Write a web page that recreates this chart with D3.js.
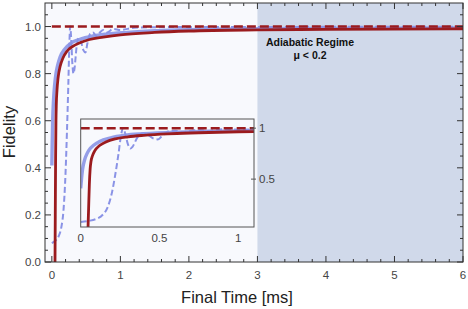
<!DOCTYPE html>
<html>
<head>
<meta charset="utf-8">
<script src="https://cdn.jsdelivr.net/npm/d3@7"></script>
<style>
  body { margin: 0; background: #fff; }
  svg { display: block; }
</style>
</head>
<body>
<svg id="chart" width="468" height="309"></svg>
<script>
// curves (time in ms, fidelity)
const redTime = [0.045, 0.05, 0.055, 0.06, 0.065, 0.075, 0.09, 0.12, 0.16, 0.22, 0.3, 0.4, 0.55, 0.75, 1.0, 1.5, 2, 3, 4, 6];
const redFid = [-0.05, 0.2, 0.45, 0.6, 0.67, 0.73, 0.78, 0.83, 0.865, 0.895, 0.915, 0.93, 0.945, 0.955, 0.965, 0.975, 0.981, 0.986, 0.988, 0.99];

const blueTime = [0, 0.005, 0.012, 0.025, 0.04, 0.06, 0.08, 0.12, 0.19, 0.28, 0.4, 0.6, 0.8, 1.1, 1.5, 2, 3, 6];
const blueFid = [0.41, 0.5, 0.6, 0.69, 0.75, 0.8, 0.83, 0.87, 0.905, 0.93, 0.945, 0.96, 0.968, 0.975, 0.982, 0.987, 0.991, 0.994];

const dashTime = [0, 0.05, 0.1, 0.14, 0.17, 0.2, 0.22, 0.24, 0.255, 0.268, 0.28, 0.3, 0.315, 0.33, 0.36, 0.39, 0.42, 0.46, 0.49, 0.52, 0.56, 0.6, 0.65, 0.7, 0.75, 0.8, 0.9, 1.0, 1.2, 1.5, 2, 6];
const dashFid = [0.08, 0.09, 0.11, 0.15, 0.22, 0.38, 0.55, 0.75, 0.92, 1.0, 0.96, 0.84, 0.8, 0.82, 0.91, 0.95, 0.94, 0.9, 0.89, 0.93, 0.97, 0.975, 0.96, 0.975, 0.985, 0.975, 0.99, 0.985, 0.995, 0.997, 0.998, 0.999];

const limitTime = [0, 6];
const limitFid = [1, 1];

const adiabaticStart = 3;
const xTicks = [0, 1, 2, 3, 4, 5, 6];
const yTicks = [0, 0.2, 0.4, 0.6, 0.8, 1.0];
const insetXTicks = [0, 0.5, 1];
const insetYTicks = [0.5, 1];

const red = "#9b1b1e";
const blue = "#8a93e6";
const tickColor = "#444";

const svg = d3.select("#chart");
const defs = svg.append("defs");

const x = d3.scaleLinear().domain([-0.1, 6]).range([45, 463]);
const y = d3.scaleLinear().domain([0, 1.1]).range([262, 3]);

const ix = d3.scaleLinear().domain([0, 1.1]).range([80.7, 254]);
const iy = d3.scaleLinear().domain([0.03, 1.09]).range([227, 119]);

const pts = (t, f) => t.map((d, i) => [d, f[i]]);

defs.append("clipPath").attr("id", "clipMain")
  .append("rect").attr("x", 45).attr("y", 3).attr("width", 418).attr("height", 259);
defs.append("clipPath").attr("id", "clipInset")
  .append("rect").attr("x", 80.7).attr("y", 119).attr("width", 173.3).attr("height", 108);

// background + adiabatic region
svg.append("rect")
  .attr("x", 45).attr("y", 3).attr("width", 418).attr("height", 259)
  .attr("fill", "#f8f9fd");
svg.append("rect")
  .attr("x", x(adiabaticStart)).attr("y", 3)
  .attr("width", x(6) - x(adiabaticStart)).attr("height", 259)
  .attr("fill", "#d0d9ea");

function drawCurves(g, sx, sy) {
  const line = d3.line().x((d) => sx(d[0])).y((d) => sy(d[1])).curve(d3.curveMonotoneX);
  g.append("path").datum(pts(blueTime, blueFid))
    .attr("d", line).attr("fill", "none")
    .attr("stroke", blue).attr("stroke-width", 3.4).attr("stroke-opacity", 0.9);
  g.append("path").datum(pts(dashTime, dashFid))
    .attr("d", line).attr("fill", "none")
    .attr("stroke", blue).attr("stroke-width", 2)
    .attr("stroke-dasharray", "6,3");
  g.append("path").datum(pts(redTime, redFid))
    .attr("d", line).attr("fill", "none")
    .attr("stroke", red).attr("stroke-width", 2.8);
  g.append("path").datum(pts(limitTime, limitFid))
    .attr("d", line).attr("fill", "none")
    .attr("stroke", red).attr("stroke-width", 2.5)
    .attr("stroke-dasharray", "9,4");
}

drawCurves(svg.append("g").attr("clip-path", "url(#clipMain)"), x, y);

// frame and ticks (inside, all four sides)
const frame = svg.append("g").attr("stroke", "#333").attr("stroke-width", 1);
frame.append("rect")
  .attr("x", 45).attr("y", 3).attr("width", 418).attr("height", 259)
  .attr("fill", "none");

const xMinor = d3.range(0, 6.001, 0.2);
const yMinor = d3.range(0, 1.1, 0.05);

frame.selectAll(".xt").data(xMinor).join("line")
  .attr("x1", (d) => x(d)).attr("x2", (d) => x(d))
  .attr("y1", 262).attr("y2", (d) => 262 - (Math.abs(d - Math.round(d)) < 1e-6 ? 6 : 3));
frame.selectAll(".xtt").data(xMinor).join("line")
  .attr("x1", (d) => x(d)).attr("x2", (d) => x(d))
  .attr("y1", 3).attr("y2", (d) => 3 + (Math.abs(d - Math.round(d)) < 1e-6 ? 6 : 3));
const isMajY = (d) => Math.abs(d * 5 - Math.round(d * 5)) < 1e-6;
frame.selectAll(".yt").data(yMinor).join("line")
  .attr("y1", (d) => y(d)).attr("y2", (d) => y(d))
  .attr("x1", 45).attr("x2", (d) => 45 + (isMajY(d) ? 6 : 3));
frame.selectAll(".ytr").data(yMinor).join("line")
  .attr("y1", (d) => y(d)).attr("y2", (d) => y(d))
  .attr("x1", 463).attr("x2", (d) => 463 - (isMajY(d) ? 6 : 3));

const labels = svg.append("g")
  .attr("font-family", "Liberation Sans, Arial, sans-serif")
  .attr("font-size", 11.5).attr("fill", tickColor);
labels.selectAll(".xl").data(xTicks).join("text")
  .attr("x", (d) => x(d)).attr("y", 279)
  .attr("text-anchor", "middle").text((d) => d);
labels.selectAll(".yl").data(yTicks).join("text")
  .attr("x", 41).attr("y", (d) => y(d) + 4)
  .attr("text-anchor", "end").text((d) => d.toFixed(1));

// axis titles
svg.append("text")
  .attr("x", 237).attr("y", 303)
  .attr("text-anchor", "middle")
  .attr("font-family", "Liberation Sans, Arial, sans-serif")
  .attr("font-size", 16.5).attr("fill", "#222")
  .text("Final Time [ms]");
svg.append("text")
  .attr("transform", "translate(15,132) rotate(-90)")
  .attr("text-anchor", "middle")
  .attr("font-family", "Liberation Sans, Arial, sans-serif")
  .attr("font-size", 16.5).attr("fill", "#222")
  .text("Fidelity");

// annotation
const note = svg.append("g")
  .attr("font-family", "Liberation Sans, Arial, sans-serif")
  .attr("font-size", 10.5).attr("font-weight", "bold")
  .attr("text-anchor", "middle").attr("fill", "#111");
note.append("text").attr("x", 310).attr("y", 46).text("Adiabatic Regime");
note.append("text").attr("x", 310).attr("y", 59).text("μ < 0.2");

// inset
svg.append("rect")
  .attr("x", 80.7).attr("y", 119).attr("width", 173.3).attr("height", 108)
  .attr("fill", "#f8f9fd");
drawCurves(svg.append("g").attr("clip-path", "url(#clipInset)"), ix, iy);
svg.append("rect")
  .attr("x", 80.7).attr("y", 119).attr("width", 173.3).attr("height", 108)
  .attr("fill", "none").attr("stroke", "#555").attr("stroke-width", 1);

svg.append("g").attr("stroke", "#555")
  .selectAll("line").data(insetYTicks).join("line")
  .attr("x1", 251).attr("x2", 256)
  .attr("y1", (d) => iy(d)).attr("y2", (d) => iy(d));

const insetLabels = svg.append("g")
  .attr("font-family", "Liberation Sans, Arial, sans-serif")
  .attr("font-size", 11.5).attr("fill", tickColor);
insetLabels.selectAll(".ixl").data(insetXTicks).join("text")
  .attr("x", (d) => ix(d)).attr("y", 242)
  .attr("text-anchor", "middle").text((d) => d);
insetLabels.selectAll(".iyl").data(insetYTicks).join("text")
  .attr("x", 259).attr("y", (d) => iy(d) + 4)
  .text((d) => d);
</script>
</body>
</html>
